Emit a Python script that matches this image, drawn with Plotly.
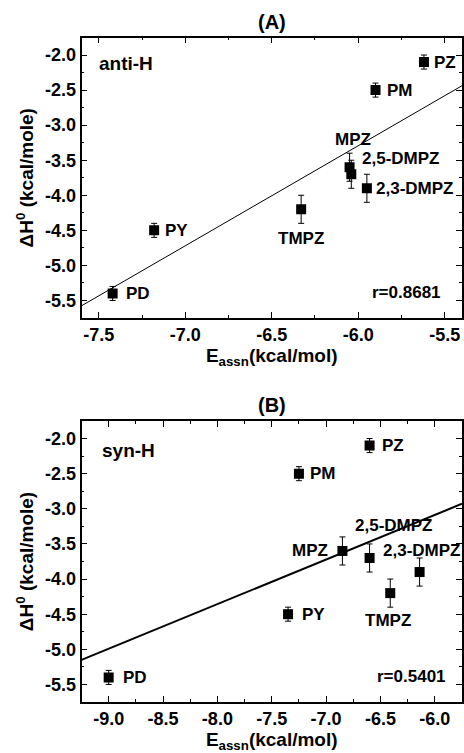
import numpy as np
import plotly.graph_objects as go

# ---------------- data ----------------
names = ["PZ", "PM", "MPZ", "2,5-DMPZ", "2,3-DMPZ", "TMPZ", "PY", "PD"]
dH = [-2.1, -2.5, -3.6, -3.7, -3.9, -4.2, -4.5, -5.4]
dH_err = [0.1, 0.1, 0.2, 0.2, 0.2, 0.2, 0.1, 0.1]
E_anti = [-5.62, -5.90, -6.05, -6.04, -5.95, -6.33, -7.18, -7.42]
E_syn = [-6.60, -7.25, -6.85, -6.60, -6.14, -6.41, -7.35, -9.00]
r_text = ["r=0.8681", "r=0.5401"]
panel_tags = ["anti-H", "syn-H"]
panel_titles = ["(A)", "(B)"]

xticks_A = [-7.5, -7.0, -6.5, -6.0, -5.5]
xticks_A_text = ["-7.5", "-7.0", "-6.5", "-6.0", "-5.5"]
xticks_B = [-9.0, -8.5, -8.0, -7.5, -7.0, -6.5, -6.0]
xticks_B_text = ["-9.0", "-8.5", "-8.0", "-7.5", "-7.0", "-6.5", "-6.0"]
yticks = [-2.0, -2.5, -3.0, -3.5, -4.0, -4.5, -5.0, -5.5]
yticks_text = ["-2.0", "-2.5", "-3.0", "-3.5", "-4.0", "-4.5", "-5.0", "-5.5"]

xrange_A = [-7.6, -5.4]
xrange_B = [-9.25, -5.75]
yrange = [-5.75, -1.75]

W, H = 464, 753
FONT = "Liberation Sans, Arial, Helvetica, sans-serif"

# label placement styles (xanchor, xshift, yshift)
lab_A = [("left", 8, 0), ("left", 9, 0), ("center", 3, 28), ("left", 9, 16),
         ("left", 7, 0), ("center", 0, -29), ("left", 9, 0), ("left", 11, 0)]
lab_B = [("left", 10, 0), ("left", 9, 0), ("right", -12, 0), ("center", 24, 32),
         ("center", 2, 22), ("center", -2, -27), ("left", 12, 0), ("left", 12, 0)]

fig = go.Figure()

panels = [
    dict(x=E_anti, xr=xrange_A, xa="x", ya="y", lw=1.0, labs=lab_A),
    dict(x=E_syn, xr=xrange_B, xa="x2", ya="y2", lw=2.0, labs=lab_B),
]

annotations = []
for i, p in enumerate(panels):
    fig.add_trace(go.Scatter(
        x=p["x"], y=dH, mode="markers", xaxis=p["xa"], yaxis=p["ya"],
        marker=dict(symbol="square", size=10, color="black"),
        error_y=dict(type="data", array=dH_err, visible=True, color="black",
                     thickness=1, width=3),
        showlegend=False, hoverinfo="skip"))
    # linear fit from data
    slope, intercept = np.polyfit(p["x"], dH, 1)
    xs = np.array(p["xr"])
    fig.add_trace(go.Scatter(
        x=xs, y=slope * xs + intercept, mode="lines", xaxis=p["xa"], yaxis=p["ya"],
        line=dict(color="black", width=p["lw"]), showlegend=False, hoverinfo="skip"))
    for n, xv, yv, (anc, xs_, ys_) in zip(names, p["x"], dH, p["labs"]):
        annotations.append(dict(
            x=xv, y=yv, xref=p["xa"], yref=p["ya"], text=n, showarrow=False,
            xanchor=anc, yanchor="middle", xshift=xs_, yshift=ys_,
            font=dict(family=FONT, size=17, color="black", weight="bold")))

# panel texts
annotations += [
    dict(x=96.7 / W, y=1 - 63.3 / H, xref="paper", yref="paper", text=panel_tags[0],
         showarrow=False, xanchor="left", yanchor="middle",
         font=dict(family=FONT, size=19, color="black", weight="bold")),
    dict(x=100 / W, y=1 - 450 / H, xref="paper", yref="paper", text=panel_tags[1],
         showarrow=False, xanchor="left", yanchor="middle",
         font=dict(family=FONT, size=19, color="black", weight="bold")),
    dict(x=443.3 / W, y=1 - 292.7 / H, xref="paper", yref="paper", text=r_text[0],
         showarrow=False, xanchor="right", yanchor="middle",
         font=dict(family=FONT, size=17, color="black", weight="bold")),
    dict(x=448.3 / W, y=1 - 676.7 / H, xref="paper", yref="paper", text=r_text[1],
         showarrow=False, xanchor="right", yanchor="middle",
         font=dict(family=FONT, size=17, color="black", weight="bold")),
    dict(x=271.7 / W, y=1 - 21.7 / H, xref="paper", yref="paper", text=panel_titles[0],
         showarrow=False, xanchor="center", yanchor="middle",
         font=dict(family=FONT, size=20, color="black", weight="bold")),
    dict(x=271.7 / W, y=1 - 405 / H, xref="paper", yref="paper", text=panel_titles[1],
         showarrow=False, xanchor="center", yanchor="middle",
         font=dict(family=FONT, size=20, color="black", weight="bold")),
]

tickfont = dict(family=FONT, size=18, color="black", weight="bold")
titlefont = dict(family=FONT, size=19, color="black", weight="bold")
common = dict(showline=True, linecolor="black", linewidth=1.5, mirror="ticks",
              ticks="inside", ticklen=6, tickwidth=1.2, tickcolor="black",
              showgrid=False, zeroline=False, tickfont=tickfont,
              minor=dict(ticks="inside", ticklen=3, tickwidth=1, tickcolor="black",
                         dtick=0.25))

xdom = [81.5 / W, 462 / W]
fig.update_layout(
    width=W, height=H, margin=dict(l=0, r=0, t=0, b=0),
    paper_bgcolor="white", plot_bgcolor="white",
    xaxis=dict(domain=xdom, range=xrange_A, anchor="y",
               tickmode="array", tickvals=xticks_A, ticktext=xticks_A_text,
               title=dict(text="E<sub>assn</sub>(kcal/mol)", font=titlefont, standoff=2),
               **common),
    yaxis=dict(domain=[1 - 318 / H, 1 - 37.5 / H], range=yrange, anchor="x",
               tickmode="array", tickvals=yticks, ticktext=yticks_text,
               title=dict(text="ΔH<sup>0</sup> (kcal/mole)", font=titlefont, standoff=6),
               **common),
    xaxis2=dict(domain=xdom, range=xrange_B, anchor="y2",
                tickmode="array", tickvals=xticks_B, ticktext=xticks_B_text,
                title=dict(text="E<sub>assn</sub>(kcal/mol)", font=titlefont, standoff=2),
                **common),
    yaxis2=dict(domain=[1 - 702 / H, 1 - 421 / H], range=yrange, anchor="x2",
                tickmode="array", tickvals=yticks, ticktext=yticks_text,
                title=dict(text="ΔH<sup>0</sup> (kcal/mole)", font=titlefont, standoff=6),
                **common),
    annotations=annotations,
)

fig.write_html("out.html", config={"displayModeBar": False},
               post_script="document.body.style.margin='0';document.body.style.overflow='hidden';")
